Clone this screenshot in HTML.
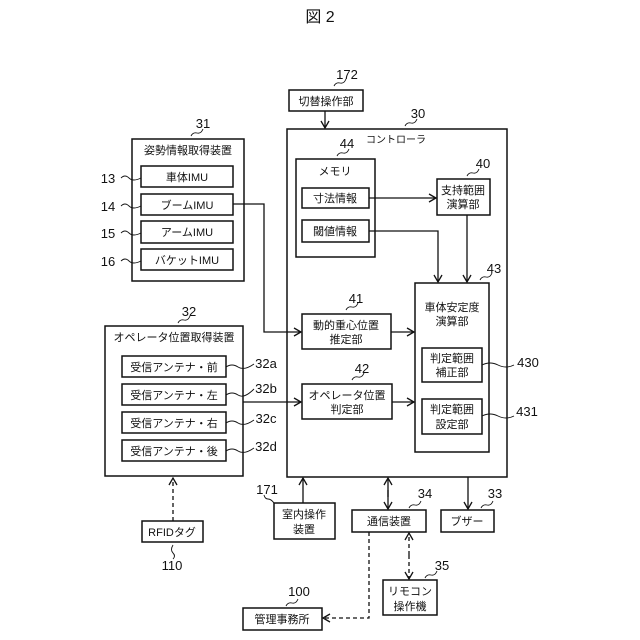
<!DOCTYPE html>
<html><head><meta charset="utf-8"><style>
html,body{margin:0;padding:0;background:#fff;}
svg{display:block}
text{font-family:"Liberation Sans","Noto Sans CJK JP",sans-serif;fill:#111;}
</style></head><body>
<svg width="640" height="640" viewBox="0 0 640 640" xmlns="http://www.w3.org/2000/svg">
<defs>
<marker id="a" markerWidth="10" markerHeight="10" refX="8" refY="5" orient="auto" markerUnits="userSpaceOnUse">
<path d="M1,1 L8,5 L1,9" fill="none" stroke="#111" stroke-width="1.3"/>
</marker>
</defs>
<g fill="none" stroke="#111" stroke-width="1.5">
<rect x="289" y="90" width="74" height="21"/>
<rect x="287" y="129" width="220" height="348"/>
<rect x="132" y="139" width="112" height="142"/>
<rect x="141" y="166" width="92" height="21"/>
<rect x="141" y="194" width="92" height="21"/>
<rect x="141" y="221" width="92" height="22"/>
<rect x="141" y="249" width="92" height="21"/>
<rect x="296" y="159" width="79" height="98"/>
<rect x="302" y="188" width="67" height="20"/>
<rect x="302" y="220" width="67" height="22"/>
<rect x="437" y="179" width="53" height="36"/>
<rect x="415" y="283" width="74" height="169"/>
<rect x="422" y="348" width="60" height="34"/>
<rect x="422" y="399" width="60" height="35"/>
<rect x="302" y="314" width="89" height="35"/>
<rect x="302" y="384" width="90" height="35"/>
<rect x="105" y="326" width="138" height="150"/>
<rect x="122" y="356" width="104" height="21"/>
<rect x="122" y="384" width="104" height="21"/>
<rect x="122" y="412" width="104" height="21"/>
<rect x="122" y="440" width="104" height="21"/>
<rect x="142" y="521" width="61" height="21"/>
<rect x="274" y="503" width="61" height="36"/>
<rect x="352" y="510" width="74" height="22"/>
<rect x="441" y="510" width="53" height="22"/>
<rect x="383" y="580" width="54" height="35"/>
<rect x="243" y="608" width="79" height="22"/>
</g>
<g fill="none" stroke="#111" stroke-width="1.3">
<line x1="325" y1="111" x2="325" y2="128" marker-end="url(#a)"/>
<line x1="369" y1="198" x2="436" y2="198" marker-end="url(#a)"/>
<polyline points="369,231 438,231 438,282" marker-end="url(#a)"/>
<line x1="467" y1="215" x2="467" y2="282" marker-end="url(#a)"/>
<polyline points="233,204 264,204 264,332 301,332" marker-end="url(#a)"/>
<line x1="391" y1="332" x2="414" y2="332" marker-end="url(#a)"/>
<line x1="243" y1="402" x2="301" y2="402" marker-end="url(#a)"/>
<line x1="392" y1="402" x2="414" y2="402" marker-end="url(#a)"/>
<line x1="303" y1="503" x2="303" y2="478" marker-end="url(#a)"/>
<line x1="388" y1="490" x2="388" y2="509" marker-end="url(#a)"/>
<line x1="388" y1="497" x2="388" y2="478" marker-end="url(#a)"/>
<line x1="468" y1="477" x2="468" y2="509" marker-end="url(#a)"/>
<g stroke-dasharray="4,3">
<line x1="173" y1="521" x2="173" y2="478" marker-end="url(#a)"/>
<line x1="409" y1="555" x2="409" y2="579" marker-end="url(#a)"/>
<line x1="409" y1="555" x2="409" y2="533" marker-end="url(#a)"/>
<polyline points="369,532 369,618 323,618" marker-end="url(#a)"/>
</g>
</g>
<g fill="none" stroke="#111" stroke-width="0.9">
<path d="M334,86 q2,-4 6,-3 t6,-4"/>
<path d="M405,126 q2,-4 6,-3 t6,-4"/>
<path d="M191,136 q2,-4 6,-3 t6,-4"/>
<path d="M337,156 q2,-4 6,-3 t6,-4"/>
<path d="M467,176 q2,-4 6,-3 t6,-4"/>
<path d="M480,280 q2,-4 6,-3 t6,-4"/>
<path d="M346,310 q2,-4 6,-3 t6,-4"/>
<path d="M352,380 q2,-4 6,-3 t6,-4"/>
<path d="M178,323 q2,-4 6,-3 t6,-4"/>
<path d="M121,178 q4,-4 8,0 t12,0"/>
<path d="M121,206 q4,-4 8,0 t12,0"/>
<path d="M121,233 q4,-4 8,0 t12,0"/>
<path d="M121,261 q4,-4 8,0 t12,0"/>
<path d="M226,367 q6,-4 12,0 t16,-3"/>
<path d="M226,395 q6,-4 12,0 t16,-6"/>
<path d="M226,423 q6,-4 12,0 t16,-3"/>
<path d="M226,451 q6,-4 12,0 t16,-3"/>
<path d="M482,365 q8,-4 16,0 t16,0"/>
<path d="M482,416 q8,-4 16,0 t16,0"/>
<path d="M173,545 q-3,5 0,8 t0,6"/>
<path d="M274,503 q-3,-4 -6,-4 t-4,-4"/>
<path d="M409,508 q2,-4 6,-3 t6,-4"/>
<path d="M481,508 q2,-4 6,-3 t6,-4"/>
<path d="M425,578 q2,-4 6,-3 t6,-4"/>
<path d="M286,606 q2,-4 6,-3 t6,-4"/>
</g>
<g font-size="13" text-anchor="middle">
<text x="320" y="22" font-size="16">図 2</text>
<text x="347" y="79">172</text>
<text x="418" y="118">30</text>
<text x="203" y="128">31</text>
<text x="347" y="148">44</text>
<text x="483" y="168">40</text>
<text x="494" y="273">43</text>
<text x="356" y="303">41</text>
<text x="362" y="373">42</text>
<text x="189" y="316">32</text>
<text x="108" y="183">13</text>
<text x="108" y="211">14</text>
<text x="108" y="238">15</text>
<text x="108" y="266">16</text>
<text x="266" y="368">32a</text>
<text x="266" y="393">32b</text>
<text x="266" y="423">32c</text>
<text x="266" y="451">32d</text>
<text x="528" y="367">430</text>
<text x="527" y="416">431</text>
<text x="172" y="570">110</text>
<text x="267" y="494">171</text>
<text x="425" y="498">34</text>
<text x="495" y="498">33</text>
<text x="442" y="570">35</text>
<text x="299" y="596">100</text>
</g>
<g font-size="11" text-anchor="middle">
<text x="326" y="105">切替操作部</text>
<text x="396" y="143" font-size="10">コントローラ</text>
<text x="188" y="154">姿勢情報取得装置</text>
<text x="187" y="181">車体IMU</text>
<text x="187" y="209">ブームIMU</text>
<text x="187" y="236">アームIMU</text>
<text x="187" y="264">バケットIMU</text>
<text x="335" y="175">メモリ</text>
<text x="335" y="202">寸法情報</text>
<text x="335" y="235">閾値情報</text>
<text x="463" y="194">支持範囲</text>
<text x="463" y="208">演算部</text>
<text x="452" y="311">車体安定度</text>
<text x="452" y="325">演算部</text>
<text x="452" y="362">判定範囲</text>
<text x="452" y="376">補正部</text>
<text x="452" y="413">判定範囲</text>
<text x="452" y="428">設定部</text>
<text x="346" y="329">動的重心位置</text>
<text x="346" y="343">推定部</text>
<text x="347" y="399">オペレータ位置</text>
<text x="347" y="413">判定部</text>
<text x="174" y="341">オペレータ位置取得装置</text>
<text x="174" y="371">受信アンテナ・前</text>
<text x="174" y="399">受信アンテナ・左</text>
<text x="174" y="427">受信アンテナ・右</text>
<text x="174" y="455">受信アンテナ・後</text>
<text x="172" y="536">RFIDタグ</text>
<text x="304" y="518">室内操作</text>
<text x="304" y="533">装置</text>
<text x="389" y="525">通信装置</text>
<text x="467" y="525">ブザー</text>
<text x="410" y="595">リモコン</text>
<text x="410" y="610">操作機</text>
<text x="282" y="623">管理事務所</text>
</g>
</svg>
</body></html>
